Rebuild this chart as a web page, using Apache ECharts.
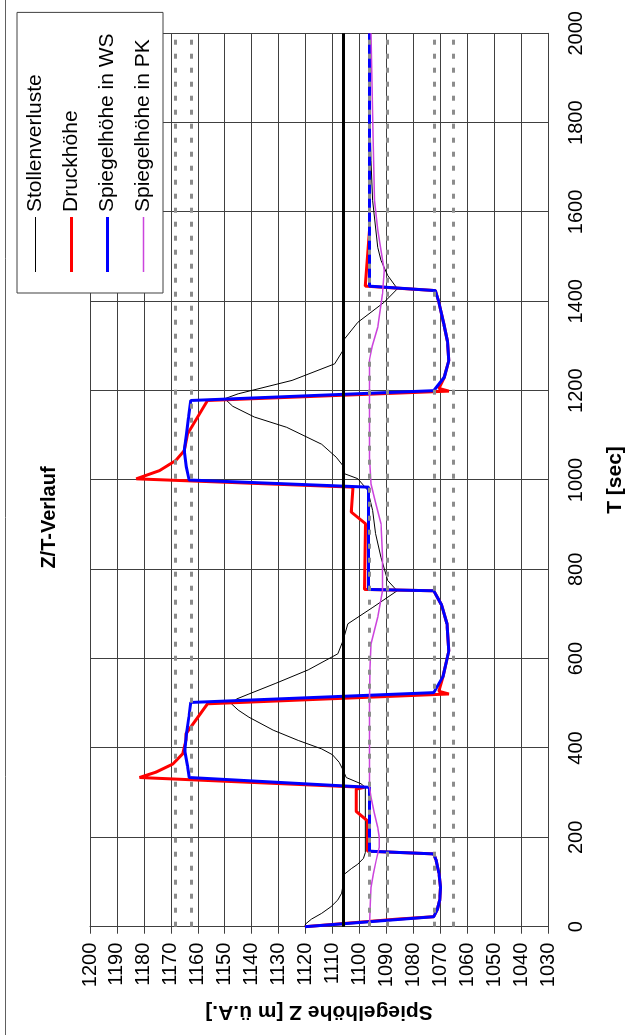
<!DOCTYPE html>
<html><head><meta charset="utf-8">
<script src="https://cdn.jsdelivr.net/npm/echarts@6/dist/echarts.min.js"></script>
<style>
html,body{margin:0;padding:0;width:631px;height:1035px;overflow:hidden;background:#fff;}
#c{position:absolute;left:-202px;top:202px;width:1035px;height:631px;transform:rotate(-90deg);transform-origin:50% 50%;}
</style></head><body><div id="c"></div>
<script>
// ---- data (T [sec], Z [m ü.A.]) ----
const seriesNames = ['Stollenverluste', 'Druckhöhe', 'Spiegelhöhe in WS', 'Spiegelhöhe in PK'];
const stollenverluste = [[0,1120.2],[6,1120],[17,1117.8],[30,1114],[45,1110.5],[60,1108],[75,1106.6],[92,1106.1],[118,1105.5],[130,1103],[140,1100.6],[153,1098.5],[166,1097.8],[312,1097.8],[320,1099.4],[334,1104.9],[350,1106],[368,1107.5],[385,1110],[398,1114],[417,1122.7],[440,1132],[469,1141],[485,1145],[499,1147.5],[510,1145.5],[521,1141],[545,1131],[575,1119],[611,1108],[640,1106.1],[678,1104.3],[715,1095],[752,1086],[775,1089.5],[827,1092],[880,1094],[932,1095.1],[977,1096.9],[1003,1100.6],[1014,1105.5],[1032,1106.1],[1051,1108.6],[1080,1114],[1118,1127],[1141,1139],[1165,1147],[1182,1150],[1193,1145],[1223,1125],[1260,1109.2],[1290,1106.1],[1316,1105.5],[1353,1100.6],[1398,1090.8],[1428,1085.9],[1458,1089.5],[1492,1092],[1521,1093.2],[1626,1095.1],[1715,1095.7],[1800,1096],[2000,1096.2]];
const druckhoehe = [[0,1120.2],[17,1086],[22.4,1072.4],[40,1071],[60,1070.2],[88,1069.9],[120,1070.5],[150,1071.6],[163,1072.4],[169,1097],[237,1097],[258,1101.2],[308,1101.2],[312,1098.1],[334,1181.6],[346,1175.5],[364,1169.3],[387,1165.6],[417,1164.4],[432,1164.4],[499,1156.4],[521,1066.8],[527,1070.5],[560,1069],[618,1066.8],[678,1067.5],[720,1069.5],[752,1072.4],[755,1098.1],[902,1097.7],[928,1103],[984,1102.4],[1002.6,1182.8],[1021,1174.2],[1044,1168.1],[1066,1165],[1103,1163.8],[1178,1156.4],[1199,1066.8],[1205,1070.5],[1230,1068.5],[1268,1066.8],[1310,1067.3],[1350,1068.7],[1400,1070.6],[1424,1071.8],[1434,1097.8],[1559,1096.3],[2000,1096.3]];
const spiegelWS = [[0,1120.2],[8,1103],[16,1086],[22.4,1072.4],[40,1071],[60,1070.2],[88,1069.9],[120,1070.5],[150,1071.6],[163,1072.4],[169,1096.3],[312,1096.3],[334,1163.2],[360,1163.8],[394,1164.8],[432,1164.2],[470,1163.3],[502,1162.6],[524,1072.4],[560,1069],[618,1066.8],[678,1067.5],[720,1069.5],[752,1072.4],[755,1096.6],[984,1096.6],[1000,1163.2],[1030,1164.3],[1066,1165],[1103,1164.2],[1140,1163.4],[1178,1162.6],[1200,1072.4],[1230,1068.5],[1268,1066.8],[1310,1067.3],[1350,1068.7],[1400,1070.6],[1424,1071.8],[1434,1096.3],[2000,1096.3]];
const spiegelPK = [[0,1096.3],[50,1096],[88,1095.7],[120,1094.8],[148,1093.8],[178,1092.6],[200,1092.6],[222,1093.2],[255,1094.5],[290,1095.7],[316,1096.3],[506,1096.3],[580,1096.1],[633,1095.7],[693,1093.2],[752,1091.4],[830,1091.4],[902,1092],[950,1094],[991,1095.7],[1050,1096.3],[1268,1096.3],[1300,1095.2],[1342,1093.2],[1417,1091.4],[1469,1090.8],[1514,1092],[1560,1093.2],[1626,1094.4],[1776,1095],[2000,1095.7]];
const refDashed = [1168.5, 1162.5, 1096.3, 1089.5, 1072.2, 1065];
const refSolid = [1106];

const FONT = "'Liberation Sans', Arial, sans-serif";
function lineIcon(th) {
  const a = 7 - th / 2, b = 7 + th / 2;
  return 'path://M0,0L0.01,0L0.01,0.01Z M55,14L54.99,14L54.99,13.99Z M0,' + a + 'L55,' + a + 'L55,' + b + 'L0,' + b + 'Z';
}
const colors = ['#000000', '#ff0000', '#0000ff', '#cc44dd'];
const widths = [1, 3, 3, 1.5];
const seriesData = [stollenverluste, druckhoehe, spiegelWS, spiegelPK];
const plain = v => String(v);

const chart = echarts.init(document.getElementById('c'), null, {renderer: 'canvas', width: 1035, height: 631});
chart.setOption({
  animation: false,
  backgroundColor: '#ffffff',
  title: {
    text: 'Z/T-Verlauf', left: 'center', top: 34,
    textStyle: {fontFamily: FONT, fontSize: 20, fontWeight: 'bold', color: '#000'}
  },
  legend: {
    orient: 'vertical', left: 742, top: 17,
    padding: [8, 21, 9, 21], itemGap: 15, itemWidth: 55, itemHeight: 14,
    backgroundColor: '#ffffff', borderColor: '#404040', borderWidth: 1,
    selectedMode: false,
    textStyle: {fontFamily: FONT, fontSize: 21, color: '#000'},
    data: seriesNames.map((n, i) => ({name: n, icon: lineIcon(widths[i])}))
  },
  grid: {left: 108.3, right: 33.3, top: 90, bottom: 79.3, containLabel: false},
  xAxis: {
    type: 'value', min: 0, max: 2000, interval: 200,
    name: 'T [sec]', nameLocation: 'middle', nameGap: 57,
    nameTextStyle: {fontFamily: FONT, fontSize: 21, fontWeight: 'bold', color: '#000'},
    axisLine: {show: true, lineStyle: {color: '#404040', width: 1}},
    axisTick: {show: false},
    axisLabel: {fontFamily: FONT, fontSize: 20, color: '#000', margin: 18, formatter: plain},
    splitLine: {show: true, lineStyle: {color: '#404040', width: 1}}
  },
  yAxis: {
    type: 'value', min: 1030, max: 1200, interval: 10,
    name: 'Spiegelhöhe Z [m ü.A.]', nameLocation: 'middle', nameGap: 75,
    nameTextStyle: {fontFamily: FONT, fontSize: 21, fontWeight: 'bold', color: '#000'},
    axisLine: {show: true, lineStyle: {color: '#404040', width: 1}},
    axisTick: {show: true, inside: false, length: 7, lineStyle: {color: '#404040'}},
    axisLabel: {fontFamily: FONT, fontSize: 20, color: '#000', margin: 16, formatter: plain},
    splitLine: {show: true, lineStyle: {color: '#404040', width: 1}}
  },
  graphic: [{
    type: 'line', shape: {x1: 0, y1: 5.5, x2: 1035, y2: 5.5},
    style: {stroke: '#606060', lineWidth: 1}, silent: true
  }],
  series: seriesData.map((d, i) => ({
    name: seriesNames[i], type: 'line', data: d, symbol: 'none', showSymbol: false,
    z: 2 + i * 0.01, silent: true,
    lineStyle: {color: colors[i], width: widths[i]}, itemStyle: {color: colors[i]}
  })).concat([{
    name: 'ref', type: 'line', data: [], z: 3, silent: true, symbol: 'none',
    markLine: {
      silent: true, symbol: 'none', label: {show: false},
      data: refDashed.map(v => ({yAxis: v, lineStyle: {color: '#8c8c8c', width: 3, type: [5, 9]}}))
        .concat(refSolid.map(v => ({yAxis: v, lineStyle: {color: '#000000', width: 3, type: 'solid'}})))
    }
  }])
});
</script></body></html>
